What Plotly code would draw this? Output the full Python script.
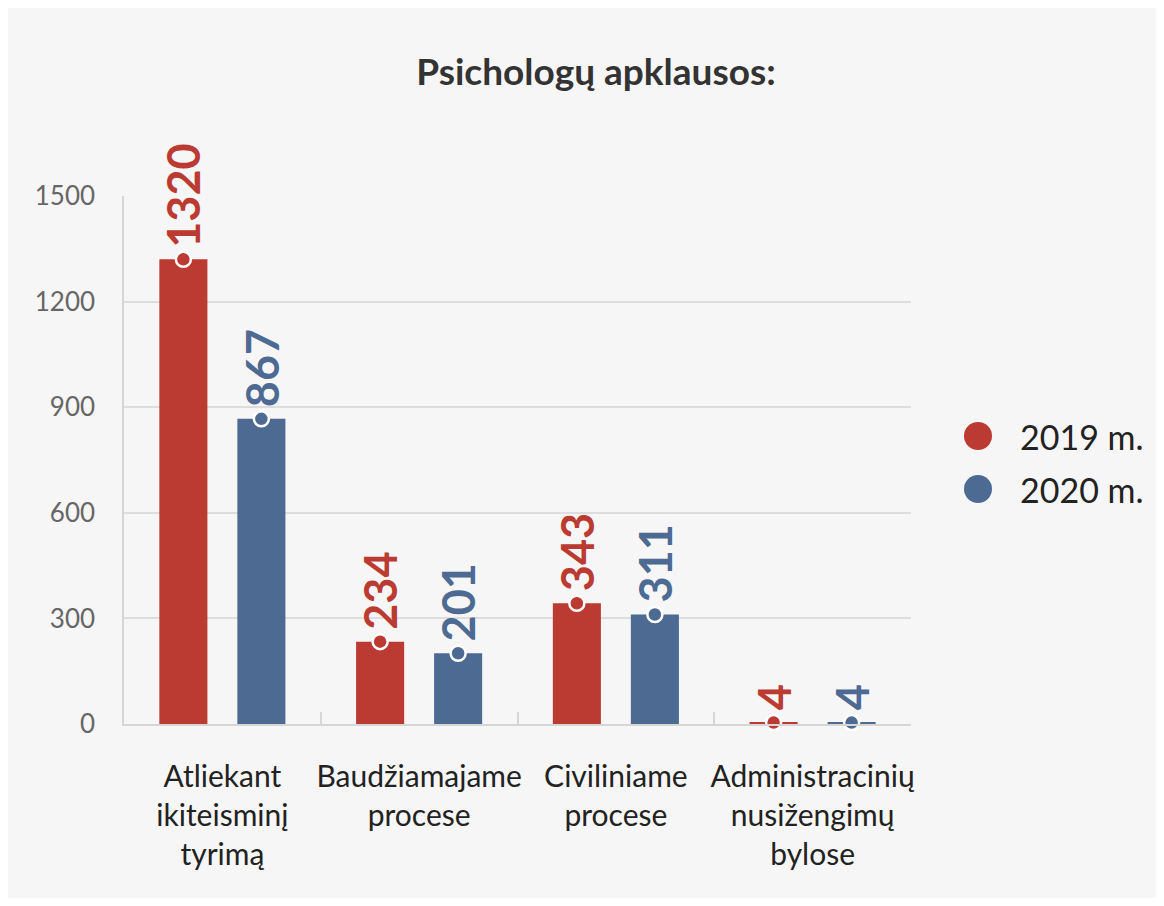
import plotly.graph_objects as go

categories = ["Atliekant<br>ikiteisminį<br>tyrimą", "Baudžiamajame<br>procese",
              "Civiliniame<br>procese", "Administracinių<br>nusižengimų<br>bylose"]
series_names = ["2019 m.", "2020 m."]
v2019 = [1320, 234, 343, 4]
v2020 = [867, 201, 311, 4]
y_ticks = [0, 300, 600, 900, 1200, 1500]

RED = "#bb3a31"
BLUE = "#4d6a93"
FONT = "Lato"

# page body adds an 8px margin; figure fills the rest
W, H = 1148, 890
OFF = 8
ML, MT = 124 - OFF, 196 - OFF
MR = W - (911 - OFF)
MB = H - (724 - OFF)
BARGAP = 0.207
BARGROUPGAP = 0.384

fig = go.Figure()
for name, vals, col in [(series_names[0], v2019, RED), (series_names[1], v2020, BLUE)]:
    fig.add_trace(go.Bar(x=categories, y=vals, name=name, marker=dict(color=col, line=dict(width=0)),
                         showlegend=False, hoverinfo="skip"))
for name, vals, col in [(series_names[0], v2019, RED), (series_names[1], v2020, BLUE)]:
    fig.add_trace(go.Scatter(x=categories, y=vals, mode="markers", name=name,
                             marker=dict(size=15, color=col, line=dict(color="white", width=2.5)),
                             showlegend=False, cliponaxis=False, hoverinfo="skip"))

plot_w = W - ML - MR
plot_h = H - MT - MB
cat_px = plot_w / len(categories)
shift = (1 - BARGAP) / 4 * cat_px

annotations = []
for vals, col, sgn in [(v2019, RED, -1), (v2020, BLUE, 1)]:
    for c, v in zip(categories, vals):
        annotations.append(dict(x=c, y=v, xref="x", yref="y", text=str(v), textangle=-90,
                                showarrow=False, xanchor="center", yanchor="bottom",
                                xshift=sgn * shift, yshift=10,
                                font=dict(family=FONT, size=45, color=col, weight="bold")))

# legend drawn manually (screen positions relative to plot area)
leg_x_circle = (978 - 124) / plot_w
leg_x_text = (1018 - 124) / plot_w
shapes = []
for i, (name, col) in enumerate(zip(series_names, [RED, BLUE])):
    py = 436 + 53 * i
    yp = (724 - py) / plot_h
    shapes.append(dict(type="circle", xref="paper", yref="paper", xsizemode="pixel", ysizemode="pixel",
                       xanchor=leg_x_circle, yanchor=yp, x0=-14, x1=14, y0=-14, y1=14,
                       fillcolor=col, line=dict(width=0)))
    annotations.append(dict(x=leg_x_text, y=yp, xref="paper", yref="paper", text=name, showarrow=False,
                            xanchor="left", yanchor="middle",
                            font=dict(family=FONT, size=34, color="#222222")))

fig.update_layout(
    width=W, height=H,
    margin=dict(l=ML, r=MR, t=MT, b=MB, autoexpand=False),
    paper_bgcolor="#f6f6f6", plot_bgcolor="#f6f6f6",
    barmode="group", bargap=BARGAP, bargroupgap=BARGROUPGAP,
    scattermode="group", scattergap=BARGAP,
    title=dict(text="<b>Psichologų apklausos:</b>", x=(596 - OFF) / W, xanchor="center", xref="container",
               y=1 - (72 - OFF) / H, yanchor="middle", yref="container",
               font=dict(family=FONT, size=37, color="#333333")),
    font=dict(family=FONT),
    showlegend=False,
    annotations=annotations,
    shapes=shapes,
)
fig.update_xaxes(showgrid=False, showline=True, linecolor="#d6d6d6", linewidth=1.5,
                 ticks="inside", tickson="boundaries", ticklen=12, tickcolor="#d6d6d6", tickwidth=1.5,
                 tickangle=0, automargin=False,
                 tickfont=dict(family=FONT, size=30, color="#222222"), ticklabelstandoff=25,
                 fixedrange=True)
fig.update_yaxes(range=[0, 1500], tickvals=y_ticks, showgrid=True, gridcolor="#dddddd", gridwidth=1.5,
                 showline=True, linecolor="#d6d6d6", linewidth=1.5, zeroline=False, automargin=False,
                 tickfont=dict(family=FONT, size=26, color="#666666"), ticklabelstandoff=22,
                 fixedrange=True)

fig.write_html("out.html")
